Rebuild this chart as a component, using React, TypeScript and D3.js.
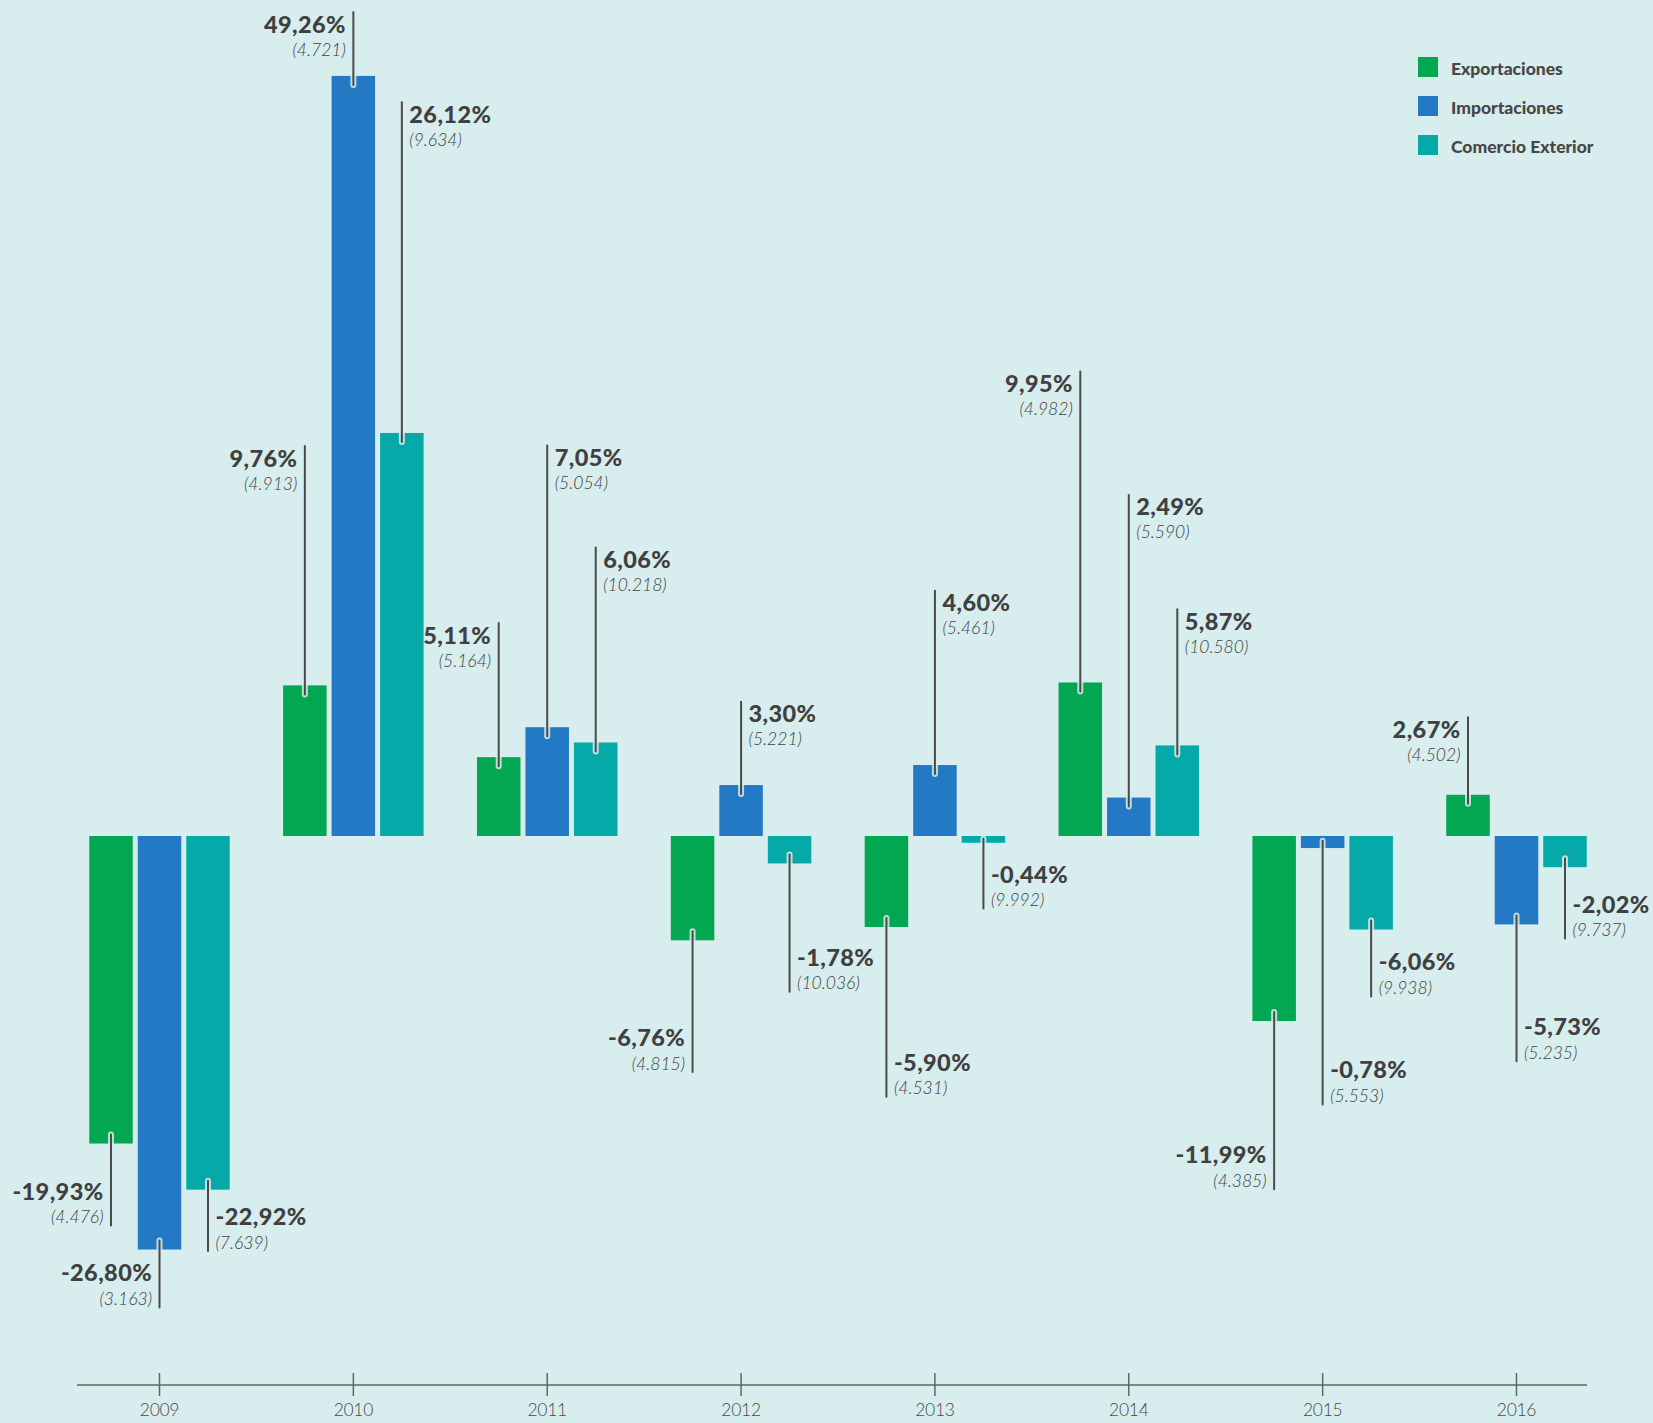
import React, { useEffect } from "react";
import * as d3 from "d3";

const years = ["2009", "2010", "2011", "2012", "2013", "2014", "2015", "2016"];
const seriesNames = ["Exportaciones", "Importaciones", "Comercio Exterior"];

const exportaciones = [-19.93, 9.76, 5.11, -6.76, -5.9, 9.95, -11.99, 2.67];
const importaciones = [-26.8, 49.26, 7.05, 3.3, 4.6, 2.49, -0.78, -5.73];
const comercioExterior = [-22.92, 26.12, 6.06, -1.78, -0.44, 5.87, -6.06, -2.02];

const exportVol = ["4.476", "4.913", "5.164", "4.815", "4.531", "4.982", "4.385", "4.502"];
const importVol = ["3.163", "4.721", "5.054", "5.221", "5.461", "5.590", "5.553", "5.235"];
const comercioVol = ["7.639", "9.634", "10.218", "10.036", "9.992", "10.580", "9.938", "9.737"];

// leader line reach (in % units) and label side
const exportReach = [-25.25, 25.27, 13.8, -15.3, -16.9, 30.1, -22.9, 7.7];
const importReach = [-30.55, 53.4, 25.3, 8.7, 15.9, 22.1, -17.4, -14.6];
const comercioReach = [-26.9, 47.56, 18.7, -10.1, -4.7, 14.7, -10.4, -6.65];
const exportSide = ["L", "L", "L", "L", "R", "L", "L", "L"];
const importSide = ["L", "L", "R", "R", "R", "R", "R", "R"];
const comercioSide = ["R", "R", "R", "R", "R", "R", "R", "R"];

const colors = ["#03a651", "#2479c4", "#05aaa8"];
const BG = "#d8eded";
const TEXT = "#404040";

const fmt = (v: number) => v.toFixed(2).replace(".", ",") + "%";

export default function App() {
  useEffect(() => {
    document.body.style.margin = "0";
    document.body.style.background = BG;
  }, []);

  const W = 1653;
  const H = 1423;
  const x = d3.scalePoint<string>().domain(years).range([159.5, 1516.5]);
  const inner = d3
    .scaleBand<string>()
    .domain(seriesNames)
    .range([-70.25, 70.25])
    .paddingInner(5 / 48.5);
  const y = d3.scaleLinear().domain([-30, 50]).range([836 + 30 * 15.43, 836 - 50 * 15.43]);

  const values = [exportaciones, importaciones, comercioExterior];
  const vols = [exportVol, importVol, comercioVol];
  const reaches = [exportReach, importReach, comercioReach];
  const sides = [exportSide, importSide, comercioSide];

  const font = "Lato, 'Open Sans', 'DejaVu Sans', sans-serif";

  const bars: React.ReactNode[] = [];
  const labels: React.ReactNode[] = [];
  years.forEach((yr, i) => {
    seriesNames.forEach((s, j) => {
      const v = values[j][i];
      const bx = (x(yr) as number) + (inner(s) as number);
      const bw = inner.bandwidth();
      const y0 = y(0);
      const y1 = y(v);
      bars.push(
        <rect key={`b${i}${j}`} x={bx} y={Math.min(y0, y1)} width={bw} height={Math.abs(y1 - y0)} fill={colors[j]} />
      );
      const cx = bx + bw / 2;
      const barH = Math.abs(y1 - y0);
      const inset = Math.min(9, barH * 0.6);
      const pos = v >= 0;
      const lineStart = pos ? y1 + inset : y1 - inset;
      const lineEnd = y(reaches[j][i]);
      const side = sides[j][i];
      const tx = side === "L" ? cx - 7.5 : cx + 7.5;
      const anchor = side === "L" ? "end" : "start";
      const b1 = pos ? lineEnd + 20.5 : lineEnd - 26;
      const b2 = pos ? lineEnd + 43.5 : lineEnd - 2.5;
      labels.push(
        <g key={`l${i}${j}`}>
          <line x1={cx} x2={cx} y1={lineStart} y2={lineEnd} stroke={BG} strokeWidth={6} strokeLinecap="round" opacity={0.85} />
          <line x1={cx} x2={cx} y1={lineStart} y2={lineEnd} stroke="#4a4a4a" strokeWidth={2} strokeLinecap="round" />
          <text x={tx} y={b1} textAnchor={anchor} fontFamily={font} fontWeight={900} fontSize={23.5} fill={TEXT} letterSpacing={0.4}>
            {fmt(v)}
          </text>
          <text x={tx} y={b2} textAnchor={anchor} fontFamily={font} fontWeight={300} fontStyle="italic" fontSize={17.5} fill="#404040">
            ({vols[j][i]})
          </text>
        </g>
      );
    });
  });

  return (
    <svg width={W} height={H} style={{ display: "block", background: BG }}>
      <rect width={W} height={H} fill={BG} />
      {bars}
      {labels}
      <g>
        <line x1={77} x2={1587} y1={1385} y2={1385} stroke="#5f6666" strokeWidth={1.5} />
        {years.map((yr) => (
          <g key={yr}>
            <line x1={x(yr)} x2={x(yr)} y1={1373} y2={1396} stroke="#5f6666" strokeWidth={1.5} />
            <text x={x(yr)} y={1416} textAnchor="middle" fontFamily={font} fontWeight={300} fontSize={17.5} fill="#4a4a4a" letterSpacing={-0.3}>
              {yr}
            </text>
          </g>
        ))}
      </g>
      <g>
        {seriesNames.map((s, j) => (
          <g key={s}>
            <rect x={1418} y={57 + j * 39} width={20} height={20} fill={colors[j]} />
            <text x={1451} y={75 + j * 39} fontFamily={font} fontWeight={900} fontSize={17.5} fill="#474747" letterSpacing={0}>
              {s}
            </text>
          </g>
        ))}
      </g>
    </svg>
  );
}
